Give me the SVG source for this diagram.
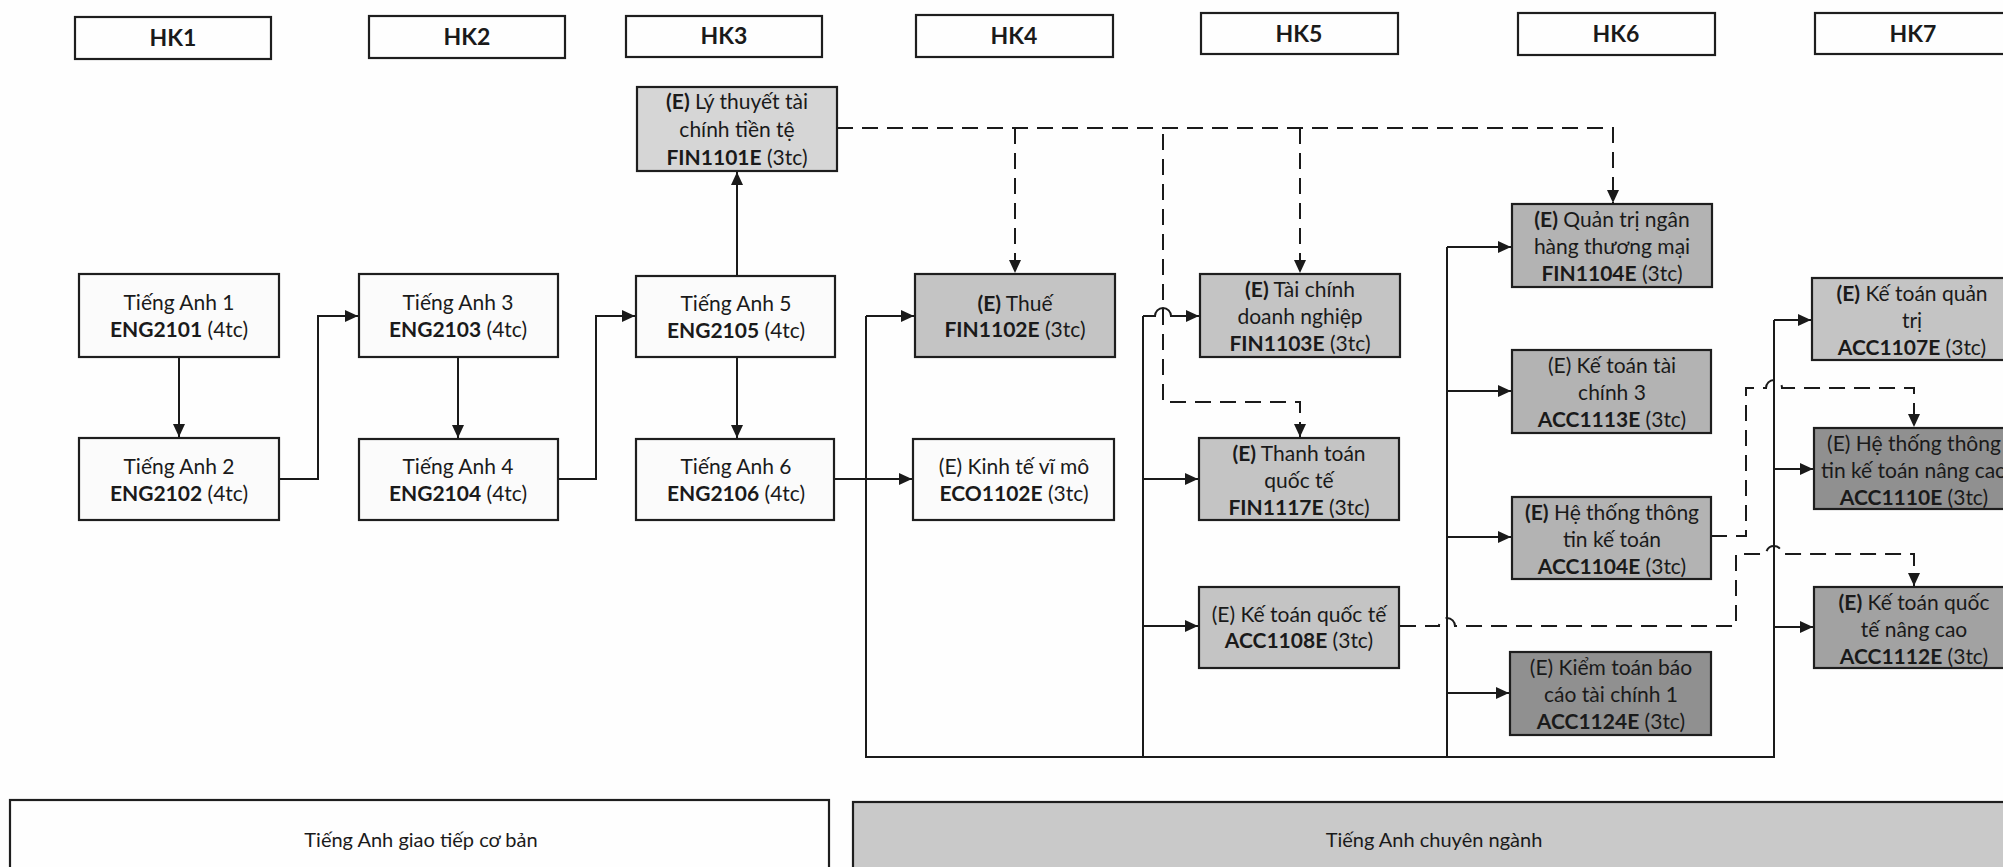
<svg xmlns="http://www.w3.org/2000/svg" width="2003" height="867" viewBox="0 0 2003 867">
<defs>
<marker id="ah" markerUnits="userSpaceOnUse" markerWidth="14" markerHeight="12" refX="13" refY="6" orient="auto">
<path d="M0,0 L13,6 L0,12 z" fill="#1a1a1a"/>
</marker>
<style>
.bx{stroke:#1e1e1e;stroke-width:2.2}
.w{fill:#fbfbfb}
.g1{fill:#d6d6d6}
.g2{fill:#c4c4c4}
.g3{fill:#b3b3b3}
.g4{fill:#a2a2a2}
.g5{fill:#909090}
text{font-family:Lato,"Liberation Sans",sans-serif;font-size:21px;fill:#1a1a1a;text-anchor:middle}
.hk{font-weight:bold;font-size:23px}
.b{font-weight:bold}
.sl{fill:none;stroke:#1a1a1a;stroke-width:2}
.ds{fill:none;stroke:#1a1a1a;stroke-width:2;stroke-dasharray:16 9}
.band{font-size:20px}
</style>
</defs>
<rect width="2003" height="867" fill="#fefefe"/>

<g id="hk1"><rect class="bx" x="75" y="17" width="196" height="42" fill="#fefefe"/><text class="hk" x="173" y="46">HK1</text></g>
<g id="hk2"><rect class="bx" x="369" y="16" width="196" height="42" fill="#fefefe"/><text class="hk" x="467" y="45">HK2</text></g>
<g id="hk3"><rect class="bx" x="626" y="16" width="196" height="41" fill="#fefefe"/><text class="hk" x="724" y="44">HK3</text></g>
<g id="hk4"><rect class="bx" x="916" y="15" width="197" height="42" fill="#fefefe"/><text class="hk" x="1014" y="44">HK4</text></g>
<g id="hk5"><rect class="bx" x="1201" y="13" width="197" height="41" fill="#fefefe"/><text class="hk" x="1299" y="42">HK5</text></g>
<g id="hk6"><rect class="bx" x="1518" y="13" width="197" height="42" fill="#fefefe"/><text class="hk" x="1616" y="42">HK6</text></g>
<g id="hk7"><rect class="bx" x="1815" y="13" width="197" height="41" fill="#fefefe"/><text class="hk" x="1913" y="42">HK7</text></g>

<g id="connectors">
<path class="sl" d="M179,357 V437" marker-end="url(#ah)"/>
<path class="sl" d="M279,479 H318 V316 H358" marker-end="url(#ah)"/>
<path class="sl" d="M458,357 V438" marker-end="url(#ah)"/>
<path class="sl" d="M558,479 H596 V316 H635" marker-end="url(#ah)"/>
<path class="sl" d="M737,276 V172" marker-end="url(#ah)"/>
<path class="sl" d="M737,357 V438" marker-end="url(#ah)"/>
<path class="sl" d="M834,479 H912" marker-end="url(#ah)"/>
<path class="sl" d="M866,316 V757 H1774 V320"/>
<path class="sl" d="M866,316 H914" marker-end="url(#ah)"/>
<path class="sl" d="M1143,316 V757"/>
<path class="sl" d="M1143,316 H1155 A8,8 0 0 1 1171,316 H1199" marker-end="url(#ah)"/>
<path class="sl" d="M1143,479 H1198" marker-end="url(#ah)"/>
<path class="sl" d="M1143,626 H1198" marker-end="url(#ah)"/>
<path class="sl" d="M1447,247 V757"/>
<path class="sl" d="M1447,247 H1511" marker-end="url(#ah)"/>
<path class="sl" d="M1447,391 H1511" marker-end="url(#ah)"/>
<path class="sl" d="M1447,537 H1511" marker-end="url(#ah)"/>
<path class="sl" d="M1447,693 H1509" marker-end="url(#ah)"/>
<path class="sl" d="M1774,320 H1811" marker-end="url(#ah)"/>
<path class="sl" d="M1774,469 H1813" marker-end="url(#ah)"/>
<path class="sl" d="M1774,627 H1813" marker-end="url(#ah)"/>
<path class="ds" d="M837,128 H1613 V203" marker-end="url(#ah)"/>
<path class="ds" d="M1015,128 V273" marker-end="url(#ah)"/>
<path class="ds" d="M1300,128 V273" marker-end="url(#ah)"/>
<path class="ds" d="M1163,134 V402 H1300 V437" marker-end="url(#ah)"/>
<path class="ds" d="M1711,536 H1746 V388 H1766 A8,8 0 0 1 1782,388 H1914 V427" marker-end="url(#ah)"/>
<path class="ds" d="M1400,626 H1439 A8,8 0 0 1 1455,626 H1736 V554 H1766 A8,8 0 0 1 1782,554 H1914 V586" marker-end="url(#ah)"/>
</g>

<g id="fin1101e"><rect class="bx g1" x="637" y="87" width="200" height="84"/><text x="737" y="109"><tspan class="b">(E)</tspan> Lý thuyết tài</text><text x="737" y="137">chính tiền tệ</text><text x="737" y="165"><tspan class="b">FIN1101E</tspan> (3tc)</text></g>

<g id="eng2101"><rect class="bx w" x="79" y="274" width="200" height="83"/><text x="179" y="310">Tiếng Anh 1</text><text x="179" y="337"><tspan class="b">ENG2101</tspan> (4tc)</text></g>
<g id="eng2102"><rect class="bx w" x="79" y="438" width="200" height="82"/><text x="179" y="474">Tiếng Anh 2</text><text x="179" y="501"><tspan class="b">ENG2102</tspan> (4tc)</text></g>
<g id="eng2103"><rect class="bx w" x="359" y="274" width="199" height="83"/><text x="458" y="310">Tiếng Anh 3</text><text x="458" y="337"><tspan class="b">ENG2103</tspan> (4tc)</text></g>
<g id="eng2104"><rect class="bx w" x="359" y="439" width="199" height="81"/><text x="458" y="474">Tiếng Anh 4</text><text x="458" y="501"><tspan class="b">ENG2104</tspan> (4tc)</text></g>
<g id="eng2105"><rect class="bx w" x="636" y="276" width="199" height="81"/><text x="736" y="311">Tiếng Anh 5</text><text x="736" y="338"><tspan class="b">ENG2105</tspan>  (4tc)</text></g>
<g id="eng2106"><rect class="bx w" x="636" y="439" width="198" height="81"/><text x="736" y="474">Tiếng Anh 6</text><text x="736" y="501"><tspan class="b">ENG2106</tspan>  (4tc)</text></g>

<g id="fin1102e"><rect class="bx g2" x="915" y="274" width="200" height="83"/><text x="1015" y="311"><tspan class="b">(E)</tspan> Thuế</text><text x="1015" y="337"><tspan class="b">FIN1102E</tspan>  (3tc)</text></g>
<g id="eco1102e"><rect class="bx w" x="913" y="439" width="201" height="81"/><text x="1014" y="474">(E) Kinh tế vĩ mô</text><text x="1014" y="501"><tspan class="b">ECO1102E</tspan> (3tc)</text></g>

<g id="fin1103e"><rect class="bx g2" x="1200" y="274" width="200" height="83"/><text x="1300" y="297"><tspan class="b">(E)</tspan> Tài chính</text><text x="1300" y="324">doanh nghiệp</text><text x="1300" y="351"><tspan class="b">FIN1103E</tspan> (3tc)</text></g>
<g id="fin1117e"><rect class="bx g2" x="1199" y="438" width="200" height="82"/><text x="1299" y="461"><tspan class="b">(E)</tspan> Thanh toán</text><text x="1299" y="488">quốc tế</text><text x="1299" y="515"><tspan class="b">FIN1117E</tspan> (3tc)</text></g>
<g id="acc1108e"><rect class="bx g2" x="1199" y="587" width="200" height="81"/><text x="1299" y="622">(E) Kế toán quốc tế</text><text x="1299" y="648"><tspan class="b">ACC1108E</tspan>  (3tc)</text></g>

<g id="fin1104e"><rect class="bx g3" x="1512" y="204" width="200" height="83"/><text x="1612" y="227"><tspan class="b">(E)</tspan> Quản trị ngân</text><text x="1612" y="254">hàng thương mại</text><text x="1612" y="281"><tspan class="b">FIN1104E</tspan>  (3tc)</text></g>
<g id="acc1113e"><rect class="bx g3" x="1512" y="350" width="199" height="83"/><text x="1612" y="373">(E) Kế toán tài</text><text x="1612" y="400">chính 3</text><text x="1612" y="427"><tspan class="b">ACC1113E</tspan> (3tc)</text></g>
<g id="acc1104e"><rect class="bx g3" x="1512" y="497" width="199" height="82"/><text x="1612" y="520"><tspan class="b">(E)</tspan> Hệ thống thông</text><text x="1612" y="547">tin kế toán</text><text x="1612" y="574"><tspan class="b">ACC1104E</tspan> (3tc)</text></g>
<g id="acc1124e"><rect class="bx g5" x="1510" y="652" width="201" height="83"/><text x="1611" y="675">(E) Kiểm toán báo</text><text x="1611" y="702">cáo tài chính 1</text><text x="1611" y="729"><tspan class="b">ACC1124E</tspan> (3tc)</text></g>

<g id="acc1107e"><rect class="bx g2" x="1812" y="278" width="200" height="82"/><text x="1912" y="301"><tspan class="b">(E)</tspan> Kế toán quản</text><text x="1912" y="328">trị</text><text x="1912" y="355"><tspan class="b">ACC1107E</tspan> (3tc)</text></g>
<g id="acc1110e"><rect class="bx g5" x="1814" y="428" width="200" height="81"/><text x="1914" y="451">(E) Hệ thống thông</text><text x="1914" y="478">tin kế toán nâng cao</text><text x="1914" y="505"><tspan class="b">ACC1110E</tspan>  (3tc)</text></g>
<g id="acc1112e"><rect class="bx g4" x="1814" y="587" width="200" height="81"/><text x="1914" y="610"><tspan class="b">(E)</tspan> Kế toán quốc</text><text x="1914" y="637">tế nâng cao</text><text x="1914" y="664"><tspan class="b">ACC1112E</tspan> (3tc)</text></g>

<g id="band-basic"><rect class="bx" x="10" y="800" width="819" height="80" fill="#fefefe"/><text class="band" x="421" y="847">Tiếng Anh giao tiếp cơ bản</text></g>
<g id="band-special"><rect class="bx" x="853" y="802" width="1163" height="80" fill="#c9c9c9"/><text class="band" x="1434" y="847">Tiếng Anh chuyên ngành</text></g>
</svg>
